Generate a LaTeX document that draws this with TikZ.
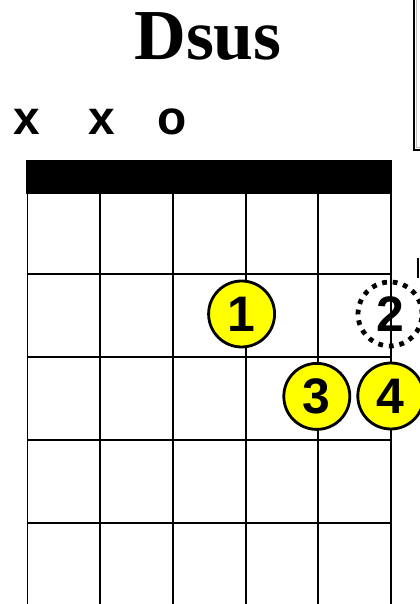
\documentclass[tikz,border=0pt]{standalone}
\usepackage{fontspec}
\setmainfont{Liberation Serif}
\setsansfont{Liberation Sans}
\usepackage{xcolor}
\usepackage{tikz}
\usetikzlibrary{
  positioning,
  shapes.geometric,
}
\definecolor{ink}{HTML}{000000}
\definecolor{fingerfill}{HTML}{FFFF00}
\definecolor{edgegray}{HTML}{BDBDBD}
\tikzset{
  title/.style={font=\fontsize{51}{51}\selectfont\bfseries, text=ink, anchor=base},
  openmark/.style={font=\sffamily\bfseries\fontsize{34}{34}\selectfont, text=ink, anchor=base},
  fret/.style={draw=ink, line width=1.4pt},
  finger/.style={
    shape=circle,
    draw=ink,
    fill=fingerfill,
    line width=2pt,
    minimum size=1.65cm,
    inner sep=0pt,
    font=\sffamily\bfseries\fontsize{35.5}{35.5}\selectfont,
    text=ink,
  },
  ghost/.style={
    shape=circle,
    draw=ink,
    line width=3.4pt,
    dash pattern=on 3.4pt off 4.2pt,
    minimum size=1.6cm,
    inner sep=0pt,
    font=\sffamily\bfseries\fontsize{35.5}{35.5}\selectfont,
    text=ink,
  },
}

\begin{document}
\begin{tikzpicture}[x=1cm,y=1cm]
  \useasboundingbox (0,0) rectangle (10.475,15.1);
  \fill[white] (0,0) rectangle (10.475,15.1);

  % neighbouring box, cut off at the edge
  \draw[ink, line width=1.4pt, fill=white] (10.35,15.3) rectangle (10.8,11.35);
  \draw[edgegray, line width=0.6pt] (10.42,15.2) -- (10.42,11.42) -- (10.8,11.42);
  \draw[ink, line width=0.9pt] (10.45,8.65) -- (10.45,8.15);

  \node[title] (name) at (5.2,13.6) {Dsus};

  % open and muted strings
  \foreach \x/\lab/\nm in {0.675/x/m6, 2.55/x/m5, 4.3/o/m4} {
    \node[openmark] (\nm) at (\x,11.725) {\lab};
  }

  % nut
  \fill[ink] (0.66,11.1) rectangle (9.8,10.25);

  % strings and frets
  \foreach \i in {0,...,5} {
    \draw[fret] (0.6875+1.8175*\i,10.275) -- (0.6875+1.8175*\i,0);
  }
  \foreach \y in {10.275,8.25,6.175,4.1,2.025} {
    \draw[fret] (0.6875,\y) -- (9.775,\y);
  }

  % fingers
  \node[finger] (f1) at (6.04,7.25) {1};
  \node[ghost] (f2) at (9.75,7.25) {2};
  \node[finger] (f3) at (7.92,5.19) {3};
  \node[finger] (f4) at (9.77,5.2) {4};
\end{tikzpicture}
\end{document}
